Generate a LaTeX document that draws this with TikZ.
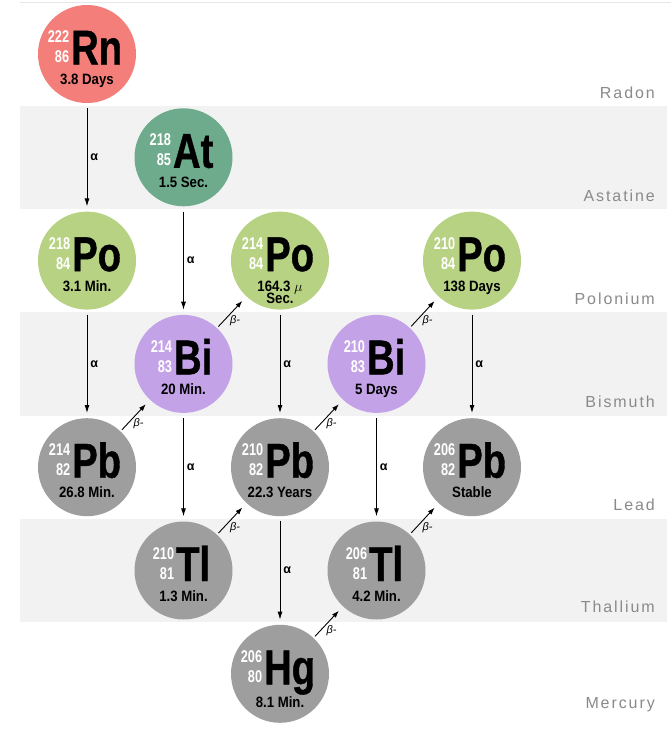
\documentclass[tikz,border=0pt]{standalone}
\usepackage{fontspec}
\usetikzlibrary{arrows.meta}
\setmainfont{Liberation Sans}
\newfontfamily\symf[FakeStretch=0.78,FakeBold=0.8]{Liberation Sans}
\newfontfamily\numf[FakeStretch=0.75]{Liberation Sans}
\newfontfamily\hlf[FakeStretch=0.88]{Liberation Sans}
\newfontfamily\labf[LetterSpace=12]{Liberation Sans}
\definecolor{rncol}{HTML}{F47E79}
\definecolor{atcol}{HTML}{6EAA8C}
\definecolor{pocol}{HTML}{B7D282}
\definecolor{bicol}{HTML}{C4A2E8}
\definecolor{pbcol}{HTML}{9E9E9E}
\definecolor{bandcol}{HTML}{F2F2F2}
\definecolor{labcol}{HTML}{8A8A8A}
\definecolor{linecol}{HTML}{E6E6E6}
\newcommand\massZ[2]{\vbox{\baselineskip=20pt\halign{\hfil##\cr#1\cr#2\cr}}}
\tikzset{
  isoc/.style={circle, minimum size=98pt, inner sep=0pt, draw=none},
  txt/.style={inner sep=0pt, outer sep=0pt},
  lab/.style={inner sep=0pt, anchor=base east, text=labcol, font=\labf\fontsize{16}{16}\selectfont},
  alphaarrow/.style={line width=0.9pt, -{Latex[length=8pt,width=5pt]}, shorten <=5pt, shorten >=5pt},
  betaarrow/.style={line width=0.9pt, -{Latex[length=7pt,width=5pt]}, shorten <=2pt, shorten >=6pt},
  alab/.style={midway, anchor=west, inner sep=0pt, xshift=3pt, font=\bfseries\fontsize{12.5}{12.5}\selectfont},
  blab/.style={midway, anchor=north west, inner sep=0pt, xshift=-2pt, yshift=-3pt, font=\itshape\fontsize{11}{11}\selectfont}
}
\newcommand\isot[9][-30.5pt]{%
  \node[isoc, fill=#5] (#2) at (#3,#4) {};
  \node[txt, anchor=base, xshift=-2pt, yshift=-10.5pt] (#2s) at (#2.center)
    {{\color{white}\numf\bfseries\fontsize{17}{20}\selectfont\raisebox{2pt}{\massZ{#6}{#7}}}\kern2pt{\symf\bfseries\fontsize{49}{49}\selectfont #8}};
  \node[txt, anchor=base, yshift=#1] (#2h) at (#2.center) {\hlf\bfseries\fontsize{15}{15}\selectfont #9};
}
\begin{document}
\begin{tikzpicture}[x=1pt,y=-1pt]
\useasboundingbox (0,0) rectangle (671,736);
\fill[white] (0,0) rectangle (671,736);
% top line and bands
\draw[linecol, line width=1pt] (20,2) -- (671,2);
\fill[bandcol] (20,105.5) rectangle (667,209);
\fill[bandcol] (20,312) rectangle (667,415.5);
\fill[bandcol] (20,519) rectangle (667,622);
% element labels
\node[lab] (lrn) at (655,98) {Radon};
\node[lab] (lat) at (655,201) {Astatine};
\node[lab] (lpo) at (655,304) {Polonium};
\node[lab] (lbi) at (655,407) {Bismuth};
\node[lab] (lpb) at (655,510) {Lead};
\node[lab] (ltl) at (655,612) {Thallium};
\node[lab] (lhg) at (655,708) {Mercury};
% isotopes
\isot{rn}{87}{54}{rncol}{222}{86}{Rn}{3.8 Days}
\isot{at}{183.5}{157.3}{atcol}{218}{85}{At}{1.5 Sec.}
\isot{poa}{87}{260.6}{pocol}{218}{84}{Po}{3.1 Min.}
\isot{pob}{280}{260.6}{pocol}{214}{84}{Po}{164.3 $\mu$}
\node[txt, anchor=base, yshift=-43pt] (pobh2) at (pob.center) {\hlf\bfseries\fontsize{15}{15}\selectfont Sec.};
\isot{poc}{472}{260.6}{pocol}{210}{84}{Po}{138 Days}
\isot{bia}{183.5}{363.9}{bicol}{214}{83}{Bi}{20 Min.}
\isot{bib}{376.5}{363.9}{bicol}{210}{83}{Bi}{5 Days}
\isot{pba}{87}{467.2}{pbcol}{214}{82}{Pb}{26.8 Min.}
\isot{pbb}{280}{467.2}{pbcol}{210}{82}{Pb}{22.3 Years}
\isot{pbc}{472}{467.2}{pbcol}{206}{82}{Pb}{Stable}
\isot{tla}{183.5}{570.5}{pbcol}{210}{81}{Tl}{1.3 Min.}
\isot{tlb}{376.5}{570.5}{pbcol}{206}{81}{Tl}{4.2 Min.}
\isot[-34pt]{hg}{280}{673.8}{pbcol}{206}{80}{Hg}{8.1 Min.}
% alpha decays
\draw[alphaarrow] (rn) -- (poa) node[alab] (al1) {α};
\draw[alphaarrow] (at) -- (bia) node[alab] (al2) {α};
\draw[alphaarrow] (poa) -- (pba) node[alab] (al3) {α};
\draw[alphaarrow] (pob) -- (pbb) node[alab] (al4) {α};
\draw[alphaarrow] (poc) -- (pbc) node[alab] (al5) {α};
\draw[alphaarrow] (bia) -- (tla) node[alab] (al6) {α};
\draw[alphaarrow] (bib) -- (tlb) node[alab] (al7) {α};
\draw[alphaarrow] (pbb) -- (hg) node[alab] (al8) {α};
% beta decays
\draw[betaarrow] (bia) -- (pob) node[blab] (bl1) {β-};
\draw[betaarrow] (pba) -- (bia) node[blab] (bl2) {β-};
\draw[betaarrow] (pbb) -- (bib) node[blab] (bl3) {β-};
\draw[betaarrow] (bib) -- (poc) node[blab] (bl4) {β-};
\draw[betaarrow] (tla) -- (pbb) node[blab] (bl5) {β-};
\draw[betaarrow] (tlb) -- (pbc) node[blab] (bl6) {β-};
\draw[betaarrow] (hg) -- (tlb) node[blab] (bl7) {β-};
\end{tikzpicture}
\end{document}
